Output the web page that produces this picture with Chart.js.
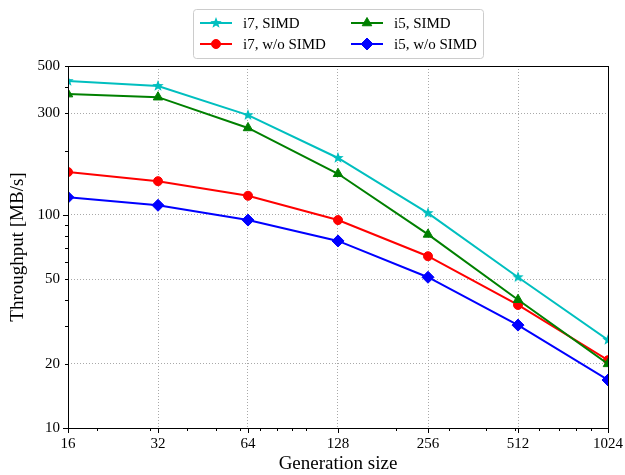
<!DOCTYPE html>
<html>
<head>
<meta charset="utf-8">
<script src="https://cdn.jsdelivr.net/npm/chart.js@4"></script>
<style>
  body { margin: 0; background: #fff; }
  #wrap { width: 625px; height: 475px; }
</style>
</head>
<body>
<div id="wrap"><canvas id="throughputChart"></canvas></div>
<script>
// data
const sizes = [16, 32, 64, 128, 256, 512, 1024];
const i7Simd = [425, 403, 294, 185, 102, 51, 25.9];
const i5Simd = [369, 357, 256, 156, 81, 40, 20];
const i7NoSimd = [159, 144, 123, 94.6, 64, 37.8, 20.8];
const i5NoSimd = [121, 111, 94.6, 75.5, 51, 30.4, 16.8];

const xMinorTicks = [20, 30, 40, 50, 60, 70, 80, 90, 100, 200, 300, 400, 500, 600, 700, 800, 900];
const yMajorTicks = [10, 100];
const yMinorTicks = [20, 30, 40, 50, 60, 70, 80, 90, 200, 300, 400, 500];
const yTickLabels = [10, 20, 50, 100, 300, 500];

const FONT = '"Liberation Serif", "DejaVu Serif", serif';

function makeStar(color, outer, inner) {
    const c = document.createElement('canvas');
    const s = Math.ceil(outer * 2 + 2);
    c.width = s; c.height = s;
    const g = c.getContext('2d');
    g.fillStyle = color;
    g.beginPath();
    for (let k = 0; k < 10; k++) {
        const r = k % 2 ? inner : outer;
        const a = -Math.PI / 2 + k * Math.PI / 5;
        g.lineTo(s / 2 + r * Math.cos(a), s / 2 + r * Math.sin(a));
    }
    g.closePath();
    g.fill();
    return c;
}

const starImg = makeStar('#00bfbf', 6, 2.5);

function series(label, values, color, pointStyle, radius) {
    return {
        label: label,
        data: sizes.map((x, i) => ({ x: x, y: values[i] })),
        borderColor: color,
        backgroundColor: color,
        borderWidth: 2,
        pointStyle: pointStyle,
        pointRadius: radius,
        pointBorderWidth: 1,
        pointBorderColor: color,
        pointBackgroundColor: color,
        clip: 0
    };
}

const datasets = [
    series('i7, SIMD', i7Simd, '#00bfbf', starImg, 6),
    series('i5, SIMD', i5Simd, '#008000', 'triangle', 5.5),
    series('i7, w/o SIMD', i7NoSimd, '#ff0000', 'circle', 4.5),
    series('i5, w/o SIMD', i5NoSimd, '#0000ff', 'rectRot', 6)
];

// legend layout: two columns like the original
const legendItems = [
    { ds: 0, col: 0, row: 0 },
    { ds: 2, col: 0, row: 1 },
    { ds: 1, col: 1, row: 0 },
    { ds: 3, col: 1, row: 1 }
];

function gridColor(labelled) {
    return function (ctx) {
        if (!ctx.tick) return 'rgba(0,0,0,0)';
        return labelled.includes(ctx.tick.value) ? 'rgba(160,160,160,0.9)' : 'rgba(0,0,0,0)';
    };
}

const framePlugin = {
    id: 'frame',
    afterDatasetsDraw(chart) {
        const ctx = chart.ctx;
        const a = chart.chartArea;
        const xs = chart.scales.x, ys = chart.scales.y;
        ctx.save();
        ctx.strokeStyle = '#000';
        ctx.lineWidth = 1;
        ctx.strokeRect(Math.round(a.left) + 0.5, Math.round(a.top) + 0.5,
            Math.round(a.right - a.left), Math.round(a.bottom - a.top));

        // x tick marks
        ctx.beginPath();
        sizes.forEach(v => {
            const px = Math.round(xs.getPixelForValue(v)) + 0.5;
            ctx.moveTo(px, a.bottom); ctx.lineTo(px, a.bottom + 5);
        });
        xMinorTicks.forEach(v => {
            const px = Math.round(xs.getPixelForValue(v)) + 0.5;
            ctx.moveTo(px, a.bottom); ctx.lineTo(px, a.bottom + 3);
        });
        // y tick marks
        yMajorTicks.forEach(v => {
            const py = Math.round(ys.getPixelForValue(v)) + 0.5;
            ctx.moveTo(a.left, py); ctx.lineTo(a.left - 5, py);
        });
        yMinorTicks.forEach(v => {
            const py = Math.round(ys.getPixelForValue(v)) + 0.5;
            ctx.moveTo(a.left, py); ctx.lineTo(a.left - 3, py);
        });
        ctx.stroke();
        ctx.restore();
    },
    afterDraw(chart) {
        const ctx = chart.ctx;
        ctx.save();
        // legend box
        ctx.fillStyle = 'rgba(255,255,255,0.8)';
        ctx.strokeStyle = '#cccccc';
        ctx.lineWidth = 1;
        ctx.beginPath();
        if (ctx.roundRect) ctx.roundRect(193.5, 9.5, 290, 49, 3);
        else ctx.rect(193.5, 9.5, 290, 49);
        ctx.fill();
        ctx.stroke();

        const colX = [200, 351];
        const rowY = [23, 44];
        ctx.font = '15px ' + FONT;
        ctx.textBaseline = 'middle';
        legendItems.forEach(item => {
            const ds = chart.data.datasets[item.ds];
            const x0 = colX[item.col], y = rowY[item.row];
            ctx.strokeStyle = ds.borderColor;
            ctx.fillStyle = ds.borderColor;
            ctx.lineWidth = 2;
            ctx.beginPath();
            ctx.moveTo(x0, y); ctx.lineTo(x0 + 32, y);
            ctx.stroke();
            ctx.lineWidth = 1;
            Chart.helpers.drawPoint(ctx, {
                pointStyle: ds.pointStyle,
                radius: ds.pointRadius,
                borderWidth: 1,
                rotation: 0
            }, x0 + 16, y);
            ctx.fillStyle = '#000';
            ctx.fillText(ds.label, x0 + 43, y + 1);
        });
        ctx.restore();
    }
};

Chart.defaults.color = '#000';
Chart.defaults.font.family = FONT;

new Chart(document.getElementById('throughputChart').getContext('2d'), {
    type: 'line',
    data: { datasets: datasets },
    options: {
        responsive: true,
        maintainAspectRatio: false,
        devicePixelRatio: 1,
        animation: false,
        layout: { padding: { top: 66, right: 17, left: 0, bottom: 0 } },
        plugins: {
            legend: { display: false },
            tooltip: { enabled: false }
        },
        scales: {
            x: {
                type: 'logarithmic',
                min: 16,
                max: 1024,
                afterBuildTicks(scale) {
                    scale.ticks = sizes.concat(xMinorTicks).sort((a, b) => a - b)
                        .map(v => ({ value: v }));
                },
                afterFit(scale) {
                    scale.height = 47;
                    scale.paddingLeft = 0;
                    scale.paddingRight = 0;
                },
                ticks: {
                    autoSkip: false,
                    maxRotation: 0,
                    padding: 7,
                    font: { size: 15 },
                    callback: v => sizes.includes(v) ? String(v) : ''
                },
                grid: {
                    drawTicks: false,
                    color: gridColor(sizes.slice(1, -1)),
                    lineWidth: 1
                },
                border: { display: false, dash: [1, 2] },
                title: {
                    display: true,
                    text: 'Generation size',
                    font: { size: 19 },
                    padding: { top: 0, bottom: 0 }
                }
            },
            y: {
                type: 'logarithmic',
                min: 10,
                max: 500,
                afterBuildTicks(scale) {
                    scale.ticks = yMajorTicks.concat(yMinorTicks).sort((a, b) => a - b)
                        .map(v => ({ value: v }));
                },
                afterFit(scale) {
                    scale.width = 68;
                    scale.paddingTop = 0;
                    scale.paddingBottom = 0;
                },
                ticks: {
                    autoSkip: false,
                    padding: 8,
                    font: { size: 15 },
                    callback: v => yTickLabels.includes(v) ? String(v) : ''
                },
                grid: {
                    drawTicks: false,
                    color: gridColor([20, 50, 100, 300]),
                    lineWidth: 1
                },
                border: { display: false, dash: [1, 2] },
                title: {
                    display: true,
                    text: 'Throughput [MB/s]',
                    font: { size: 19 },
                    padding: { top: 7, bottom: 0 }
                }
            }
        }
    },
    plugins: [framePlugin]
});
</script>
</body>
</html>
